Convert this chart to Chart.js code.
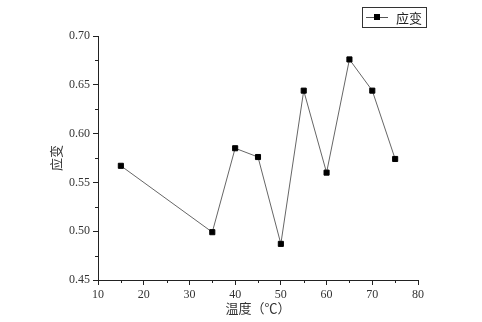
<!DOCTYPE html>
<html>
<head>
<meta charset="utf-8">
<script src="https://cdn.jsdelivr.net/npm/chart.js@4.4.1/dist/chart.umd.min.js"></script>
<style>
  html, body { margin: 0; padding: 0; background: #fff; }
  #wrap { width: 482px; height: 322px; }
</style>
</head>
<body>
<div id="wrap"><canvas id="chart" width="482" height="322"></canvas></div>
<script>
// temperature (°C) and measured strain
const temps = [15, 35, 40, 45, 50, 55, 60, 65, 70, 75];
const strain = [0.567, 0.499, 0.585, 0.576, 0.487, 0.644, 0.560, 0.676, 0.644, 0.574];

// axis ticks
const xTicks = [10, 20, 30, 40, 50, 60, 70, 80];
const yTicks = [0.45, 0.50, 0.55, 0.60, 0.65, 0.70];
const xMinor = [15, 25, 35, 45, 55, 65, 75];
const yMinor = [0.475, 0.525, 0.575, 0.625, 0.675];

const seriesName = '应变';
const xTitle = '温度（℃）';
const yTitle = '应变';

const tickFont = { family: "'Liberation Serif', 'DejaVu Serif', serif", size: 12 };
const titleFont = { family: "'Noto Sans CJK SC', sans-serif", size: 13 };

// short outward ticks between the labelled ones
const minorTicks = {
    id: 'minorTicks',
    afterDraw(chart) {
        const ctx = chart.ctx;
        const xs = chart.scales.x, ys = chart.scales.y;
        ctx.save();
        ctx.strokeStyle = '#222';
        ctx.lineWidth = 1;
        xMinor.forEach(v => {
            const px = Math.round(xs.getPixelForValue(v)) + 0.5;
            ctx.beginPath();
            ctx.moveTo(px, ys.bottom);
            ctx.lineTo(px, ys.bottom + 3);
            ctx.stroke();
        });
        yMinor.forEach(v => {
            const py = Math.round(ys.getPixelForValue(v)) + 0.5;
            ctx.beginPath();
            ctx.moveTo(xs.left, py);
            ctx.lineTo(xs.left - 3, py);
            ctx.stroke();
        });
        ctx.restore();
    }
};

// boxed legend in the upper right corner
const boxLegend = {
    id: 'boxLegend',
    afterDraw(chart) {
        const ctx = chart.ctx;
        const x = 362, y = 7, w = 64, h = 20;
        ctx.save();
        ctx.strokeStyle = '#333';
        ctx.lineWidth = 1;
        ctx.strokeRect(x + 0.5, y + 0.5, w, h);
        ctx.strokeStyle = '#555';
        ctx.beginPath();
        ctx.moveTo(x + 4, y + 10.5);
        ctx.lineTo(x + 26, y + 10.5);
        ctx.stroke();
        ctx.fillStyle = '#000';
        ctx.fillRect(x + 12, y + 7, 6, 6);
        ctx.font = "13px 'Noto Sans CJK SC', sans-serif";
        ctx.fillStyle = '#222';
        ctx.textBaseline = 'middle';
        ctx.fillText(seriesName, x + 34, y + 11);
        ctx.restore();
    }
};

const ctx = document.getElementById('chart').getContext('2d');
const chart = new Chart(ctx, {
    type: 'scatter',
    data: {
        datasets: [{
            label: seriesName,
            data: temps.map((t, i) => ({ x: t, y: strain[i] })),
            showLine: true,
            borderColor: '#666',
            borderWidth: 1,
            pointStyle: 'rect',
            pointRadius: 3.6,
            pointBackgroundColor: '#000',
            pointBorderColor: '#000',
            pointBorderWidth: 1,
            clip: false
        }]
    },
    options: {
        responsive: false,
        animation: false,
        layout: { padding: { left: 0, right: 64, top: 36, bottom: 0 } },
        plugins: {
            legend: { display: false },
            tooltip: { enabled: false }
        },
        scales: {
            x: {
                type: 'linear',
                min: 10,
                max: 80,
                afterBuildTicks: s => { s.ticks = xTicks.map(v => ({ value: v })); },
                afterFit: s => { s.height = 42; },
                grid: { drawOnChartArea: false, tickLength: 5, tickColor: '#222' },
                border: { color: '#222', width: 1 },
                ticks: { font: tickFont, color: '#333', padding: 3, maxRotation: 0 },
                title: { display: true, text: xTitle, font: titleFont, color: '#333', padding: { top: 0, bottom: 6 } }
            },
            y: {
                min: 0.45,
                max: 0.70,
                afterBuildTicks: s => { s.ticks = yTicks.map(v => ({ value: v })); },
                afterFit: s => { s.width = 98; },
                grid: { drawOnChartArea: false, tickLength: 5, tickColor: '#222' },
                border: { color: '#222', width: 1 },
                ticks: { font: tickFont, color: '#333', padding: 3, callback: v => v.toFixed(2) },
                title: { display: true, text: yTitle, font: titleFont, color: '#333', padding: { top: 48, bottom: 0 } }
            }
        }
    },
    plugins: [minorTicks, boxLegend]
});
</script>
</body>
</html>
